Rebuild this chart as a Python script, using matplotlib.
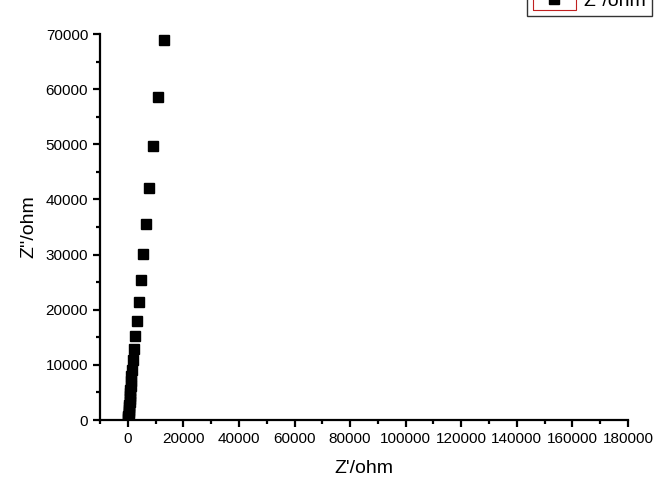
import matplotlib
matplotlib.use("Agg")
import matplotlib.pyplot as plt
from matplotlib.legend_handler import HandlerBase
from matplotlib.patches import Rectangle
from matplotlib.lines import Line2D
from matplotlib.ticker import MultipleLocator

plt.rcParams['font.family'] = ['Liberation Sans', 'DejaVu Sans']

# impedance data
z_re = [100, 150, 200, 260, 330, 400, 470, 540, 620, 700, 780, 860, 950,
        1050, 1180, 1300, 1440, 1800, 2160, 2520, 3240, 3960, 4680, 5400,
        6490, 7570, 9000, 10800, 12970]
z_im = [250, 500, 800, 1100, 1500, 1900, 2300, 2800, 3300, 3800, 4300,
        4900, 5500, 6200, 7000, 8000, 9100, 10900, 12900, 15200, 18000,
        21400, 25400, 30100, 35500, 42100, 49700, 58600, 68900]

x_label = "Z'/ohm"
y_label = "Z''/ohm"
legend_label = "Z''/ohm"


class BoxedMarker(HandlerBase):
    def create_artists(self, legend, orig_handle, xdescent, ydescent,
                       width, height, fontsize, trans):
        box = Rectangle((-xdescent, -ydescent - 0.3 * height), width, height * 1.6,
                        facecolor='none', edgecolor='#c02020', linewidth=0.8,
                        transform=trans)
        mk = Line2D([width / 2 - xdescent], [height / 2 - ydescent], marker='s',
                    markersize=6.5, color='black', linestyle='none',
                    transform=trans)
        return [box, mk]


fig = plt.figure(figsize=(6.72, 4.96), dpi=100)
ax = fig.add_axes([100 / 672, 1 - 420 / 496, 528 / 672, 386 / 496])

pts, = ax.plot(z_re, z_im, linestyle='none', marker='s', markersize=6.5,
               color='black', label=legend_label)

ax.set_xlim(-10000, 180000)
ax.set_ylim(0, 70000)
ax.xaxis.set_major_locator(MultipleLocator(20000))
ax.xaxis.set_minor_locator(MultipleLocator(10000))
ax.yaxis.set_major_locator(MultipleLocator(10000))
ax.yaxis.set_minor_locator(MultipleLocator(5000))
ax.set_xticks(range(0, 180001, 20000))

for side in ('top', 'right'):
    ax.spines[side].set_visible(False)
for side in ('left', 'bottom'):
    ax.spines[side].set_linewidth(1.6)

ax.tick_params(which='major', direction='out', length=5, width=1.6,
               labelsize=11)
ax.tick_params(which='minor', direction='out', length=3, width=1.6)

ax.set_xlabel(x_label, fontsize=14, labelpad=10)
ax.set_ylabel(y_label, fontsize=14, labelpad=6)

leg = fig.legend([pts], [legend_label], handler_map={pts: BoxedMarker()},
                 loc='lower right', bbox_to_anchor=(652 / 672, 1 - 16 / 496),
                 borderaxespad=0, fontsize=14, fancybox=False,
                 handlelength=2.2, handletextpad=0.4, borderpad=0.3)
leg.get_frame().set_edgecolor('black')
leg.get_frame().set_linewidth(1.0)

fig.savefig("out.png", dpi=100)
